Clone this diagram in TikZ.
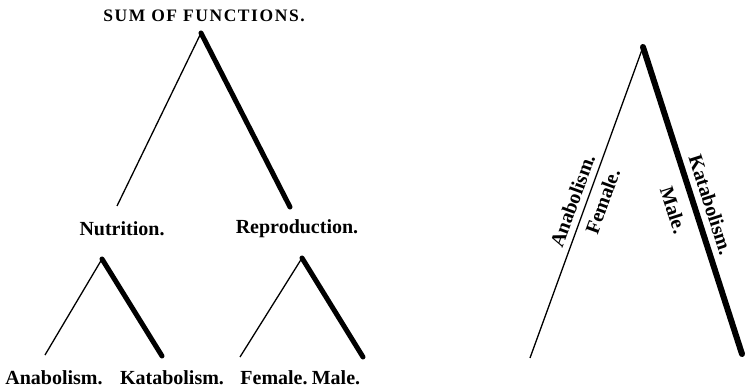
\documentclass[tikz,border=0pt]{standalone}
\usepackage{fontspec}
\setmainfont{Liberation Serif}
\newcommand{\lbl}{\bfseries\fontsize{20}{22}\selectfont}

\begin{document}
\begin{tikzpicture}[x=1pt,y=-1pt,
	thinleg/.style={line width=1.3pt},
	thickleg/.style={line width=5pt, line cap=round},
	word/.style={font=\lbl, inner sep=1pt}]
	\useasboundingbox (0,0) rectangle (747,390);
	\node[font=\bfseries\fontsize{17.5}{19}\selectfont\addfontfeature{LetterSpace=9}] (sum) at (204,16) {SUM OF FUNCTIONS.};
	% the three trees on the left
	\coordinate (top) at (201,33);   \coordinate (nl) at (117,206);  \coordinate (nr) at (290,207);
	\coordinate (ntop) at (102,259); \coordinate (al) at (45,355);   \coordinate (kr) at (162,356);
	\coordinate (rtop) at (302,258); \coordinate (fl) at (240,357);  \coordinate (mr) at (363,357);
	\draw[thinleg] (top) -- (nl);  \draw[thickleg] (top) -- (nr);
	\draw[thinleg] (ntop) -- (al); \draw[thickleg] (ntop) -- (kr);
	\draw[thinleg] (rtop) -- (fl); \draw[thickleg] (rtop) -- (mr);
	\node[word] (nutr) at (122,229) {Nutrition.};
	\node[word] (repr) at (297,229) {Reproduction.};
	\node[word] (anab) at (54,378) {Anabolism.};
	\node[word] (katab) at (172,378) {Katabolism.};
	\node[word] (fem) at (274,378) {Female.};
	\node[word] (male) at (336,378) {Male.};
	% the tree on the right
	\coordinate (apex) at (643,47); \coordinate (an) at (530,358); \coordinate (ka) at (742,354);
	\draw[thinleg] (apex) -- node[word, sloped, above, pos=0.51, inner sep=6pt] (ranab) {Anabolism.}
		node[word, sloped, below, pos=0.48, inner sep=7pt] (rfem) {Female.} (an);
	\draw[thickleg, line width=6pt] (apex) -- node[word, sloped, above, pos=0.53, inner sep=6pt] (rkatab) {Katabolism.}
		node[word, sloped, below, pos=0.51, inner sep=11pt] (rmale) {Male.} (ka);
\end{tikzpicture}
\end{document}
